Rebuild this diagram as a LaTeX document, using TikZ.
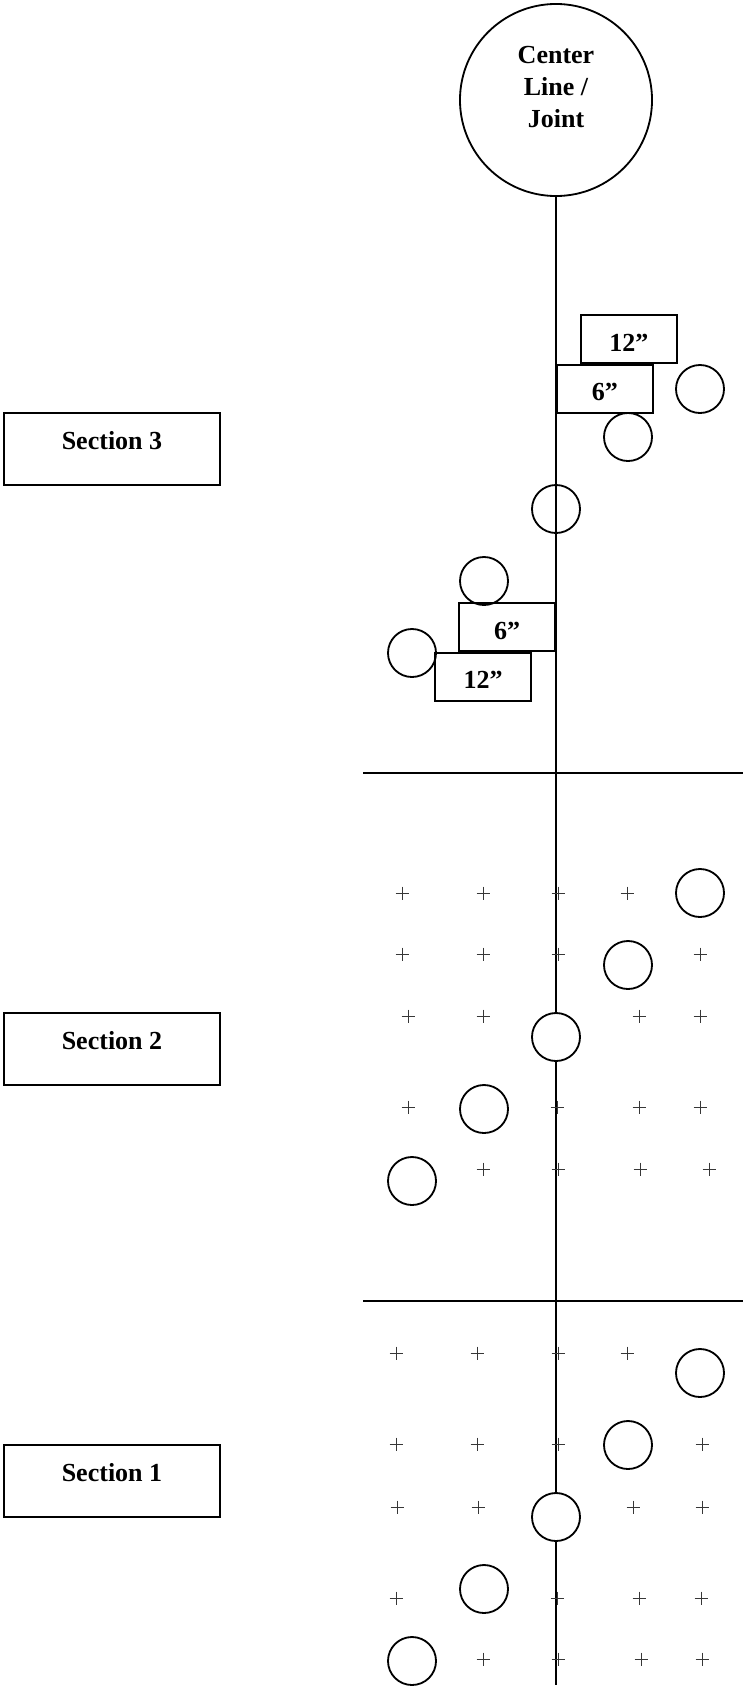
\documentclass[tikz,border=0pt]{standalone}
\usepackage{fontspec}
\setmainfont{Liberation Serif}
\usetikzlibrary{calc}
\definecolor{plusgray}{RGB}{55, 55, 55}
\tikzset{
    labelfont/.style={font=\bfseries\fontsize{18.5}{22.7}\selectfont},
    jointcircle/.style={draw, circle, minimum size=4.8cm, inner sep=0pt},
    corecircle/.style={draw, circle, minimum size=1.2cm, inner sep=0pt},
    sizebox/.style={draw, rectangle, labelfont, minimum width=2.4cm, minimum height=1.2cm,
        inner sep=0pt, text height=0.9cm, text depth=0.3cm},
    secbox/.style={draw, rectangle, labelfont, minimum width=5.4cm, minimum height=1.8cm,
        inner sep=0pt, text height=0.9cm, text depth=0.9cm},
    plusmark/.style={line width=0.7pt, plusgray}
}

\begin{document}
\begin{tikzpicture}[x=0.025cm, y=-0.025cm, line width=1.3pt]
    \useasboundingbox (0,0) rectangle (743,1690);

    % center line / joint
    \node[jointcircle] (joint) at (556,100) {};
    \node[labelfont, align=center, inner sep=0pt] (jointtext) at (556,87) {Center\\Line /\\Joint};
    \coordinate (lineend) at (556,1685);
    \draw (joint.south) -- (lineend);

    % section borders
    \draw (363,773) -- (743,773);
    \draw (363,1301) -- (743,1301);

    % section labels
    \node[secbox] (secthree) at (112,449) {Section 3};
    \node[secbox] (sectwo) at (112,1049) {Section 2};
    \node[secbox] (secone) at (112,1481) {Section 1};

    % Section 3: offsets from the joint
    \node[sizebox, anchor=north west] (sixA) at (556,364) {6''};
    \node[sizebox, anchor=south west] (twelveA) at (580,364) {12''};
    \node[sizebox, anchor=south east] (sixB) at (556,652) {6''};
    \node[sizebox, anchor=north east] (twelveB) at (532,652) {12''};
    \node[corecircle] (coreC1) at (700,389) {};
    \node[corecircle] (coreC2) at (628,437) {};
    \node[corecircle] (coreC3) at (556,509) {};
    \node[corecircle] (coreC4) at (484,581) {};
    \node[corecircle] (coreC5) at (412,653) {};

    % Section 2: grid
    \foreach \px/\py in {402/893, 483/893, 558/893, 627/893,
                         402/954, 483/954, 558/954, 700/954,
                         408/1016, 483/1016, 639/1016, 700/1016,
                         408/1107, 557/1107, 639/1107, 700/1107,
                         483/1169, 558/1169, 640/1169, 709/1169}
        \draw[plusmark] (\px,\py) +(-6.5,0) -- +(6.5,0) +(0,-6.5) -- +(0,6.5);
    \node[corecircle, fill=white] (coreB1) at (700,893) {};
    \node[corecircle, fill=white] (coreB2) at (628,965) {};
    \node[corecircle, fill=white] (coreB3) at (556,1037) {};
    \node[corecircle, fill=white] (coreB4) at (484,1109) {};
    \node[corecircle, fill=white] (coreB5) at (412,1181) {};

    % Section 1: grid
    \foreach \px/\py in {396/1353, 477/1353, 558/1353, 627/1353,
                         396/1444, 477/1444, 558/1444, 702/1444,
                         397/1507, 478/1507, 633/1507, 702/1507,
                         396/1598, 557/1598, 639/1598, 701/1598,
                         483/1659, 558/1659, 641/1659, 702/1659}
        \draw[plusmark] (\px,\py) +(-6.5,0) -- +(6.5,0) +(0,-6.5) -- +(0,6.5);
    \node[corecircle, fill=white] (coreA1) at (700,1373) {};
    \node[corecircle, fill=white] (coreA2) at (628,1445) {};
    \node[corecircle, fill=white] (coreA3) at (556,1517) {};
    \node[corecircle, fill=white] (coreA4) at (484,1589) {};
    \node[corecircle, fill=white] (coreA5) at (412,1661) {};
\end{tikzpicture}
\end{document}
